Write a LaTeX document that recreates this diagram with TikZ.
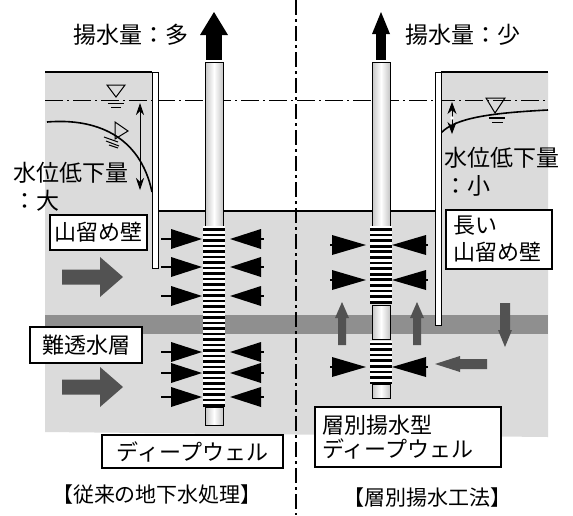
\documentclass[tikz,border=0pt]{standalone}
\usepackage{fontspec}
\setmainfont{Noto Sans CJK JP}
\usetikzlibrary{arrows.meta}

\definecolor{soil}{gray}{0.86}
\definecolor{clay}{gray}{0.56}
\definecolor{flow}{gray}{0.32}

\tikzset{
  label/.style={draw=black, line width=1.1pt, fill=white, inner sep=0pt,
    font=\fontsize{22}{27}\selectfont},
  head/.style={font=\fontsize{23}{27}\selectfont, inner sep=0pt},
  title/.style={font=\fontsize{21}{25}\selectfont, inner sep=0pt},
  pipe/.style={draw=black, line width=0.8pt, left color=gray!45,
    right color=gray!45, middle color=white},
  wallbox/.style={draw=black, line width=0.9pt, fill=white},
  surface/.style={line width=1.4pt},
  wlevel/.style={line width=0.8pt, dash pattern=on 18pt off 4pt on 2pt off 4pt},
  divider/.style={line width=1.8pt, dash pattern=on 15pt off 4pt on 3pt off 4pt},
  watercurve/.style={line width=1.6pt},
  pics/inR/.style n args={2}{code={
    \fill (-#1,-10) -- (0,0) -- (-#1,10) -- cycle;
    \draw[line width=1.2pt] (-#1-#2,0) -- (-#1+2,0);}},
  pics/inL/.style n args={2}{code={
    \fill (#1,-10) -- (0,0) -- (#1,10) -- cycle;
    \draw[line width=1.2pt] (#1-2,0) -- (#1+#2,0);}},
}

\begin{document}
\begin{tikzpicture}[x=1pt,y=-1pt]
\useasboundingbox (0,0) rectangle (573,515);

% retained soil and excavated ground
\fill[soil] (45,72) -- (152,72) -- (152,211) -- (441,211) -- (441,72)
  -- (548,72) -- (548,437) -- (45,432) -- cycle;
% aquitard layer
\fill[clay] (45,315) rectangle (548,334);

% initial water level
\draw[wlevel] (45,100) -- (548,100);

% lowered water tables
\draw[watercurve] (47,122) .. controls (95,118) and (140,135) .. (152,192);
\draw[watercurve] (441,133) .. controls (455,118) and (490,113) .. (548,110);

% water level marks
\draw[line width=1pt] (107,85) -- (125,85) -- (116,97) -- cycle;
\draw[line width=1pt] (108,103) -- (124,103) (111,107) -- (121,107);
\draw[line width=1pt] (115,122) -- (115,139) -- (128,131) -- cycle;
\draw[line width=1pt] (104,137) -- (118,142) (106,141) -- (119,146) (109,145) -- (118,148);
\draw[line width=1pt] (486,98) -- (505,98) -- (495,113) -- cycle;
\draw[line width=1.6pt] (489,118) -- (505,118);
\draw[line width=1pt] (492,122) -- (503,122);

% drawdown arrows
\coordinate (dl1) at (140,103);
\coordinate (dl2) at (140,190);
\draw[line width=0.8pt, {Stealth[length=12pt,width=8pt]}-{Stealth[length=12pt,width=8pt]}] (dl1) -- (dl2);
\coordinate (dr1) at (452,102);
\coordinate (dr2) at (452,134);
\draw[line width=0.8pt, {Stealth[length=12pt,width=9pt]}-{Stealth[length=12pt,width=9pt]}] (dr1) -- (dr2);
\fill[white] (452,118) circle (1.8);

% ground surface and excavation bottom
\draw[surface] (45,72) -- (152,72);
\draw[surface] (441,72) -- (548,72);
\draw[surface] (158,211) -- (435,211);

% retaining walls
\draw[wallbox] (152,72) rectangle (158,268);
\draw[wallbox] (435,72) rectangle (441,325);

% ---- conventional deep well ----
\fill (206,60) rectangle (222,34);
\fill (200,35) -- (228,35) -- (214,12) -- cycle;
\draw[pipe] (205,62) rectangle (223,226);
\fill[white] (203,226) rectangle (225,404);
\foreach \i in {0,...,32} \fill (203,228+5.5*\i) rectangle (225,230.7+5.5*\i);
\draw[pipe] (205,407) rectangle (223,425);
\foreach \y in {239,267,296,352,373,397} {
  \pic at (202,\y) {inR={31}{10}};
  \pic at (230,\y) {inL={31}{3}};
}
% groundwater inflow
\foreach \y in {277,387}
  \fill[flow] (62,\y-7.5) -- (100,\y-7.5) -- (100,\y-20) -- (123,\y)
    -- (100,\y+20) -- (100,\y+7.5) -- (62,\y+7.5) -- cycle;

% ---- layered pumping deep well ----
\fill (376,60) rectangle (386,32);
\fill (372,34) -- (390,34) -- (381,12) -- cycle;
\draw[pipe] (372,62) rectangle (390,226);
\fill[white] (370,226) rectangle (392,303);
\foreach \i in {0,...,13} \fill (370,228+5.6*\i) rectangle (392,230.7+5.6*\i);
\draw[pipe] (372,305) rectangle (390,339);
\fill[white] (370,341) rectangle (392,383);
\foreach \i in {0,...,7} \fill (370,342.5+5.6*\i) rectangle (392,345.2+5.6*\i);
\draw[pipe] (372,384) rectangle (390,398);
\foreach \y in {245,280,367} {
  \pic at (366,\y) {inR={34}{2}};
  \pic at (392,\y) {inL={34}{2}};
}
% vertical seepage through the aquitard
\foreach \x in {342,417}
  \fill[flow] (\x-4,345) -- (\x-4,318) -- (\x-7,318) -- (\x,302)
    -- (\x+7,318) -- (\x+4,318) -- (\x+4,345) -- cycle;
\fill[flow] (500,303) -- (510,303) -- (510,330) -- (512,330) -- (505,347)
  -- (498,330) -- (500,330) -- cycle;
\fill[flow] (487,359) -- (460,359) -- (460,356) -- (435,364) -- (460,372)
  -- (460,369) -- (487,369) -- cycle;

% centre divider
\draw[divider] (296,0) -- (296,515);

% labels
\node[head] (q1) at (131,35) {揚水量：多};
\node[head] (q2) at (463,35) {揚水量：少};
\node[head, anchor=base west] (dd1) at (13,181) {水位低下量};
\node[head, anchor=base west] (dd1b) at (13,209) {：大};
\node[head, anchor=base west] (dd2) at (444,166) {水位低下量};
\node[head, anchor=base west] (dd2b) at (444,194) {：小};

\node[label, minimum width=97, minimum height=35] (b1) at (98.5,232.5) {山留め壁};
\node[label, minimum width=112, minimum height=36] (b2) at (86,345) {難透水層};
\node[label, minimum width=181, minimum height=33] (b3) at (192.5,451.5) {ディープウェル};
\node[label, minimum height=59, text width=92, inner xsep=7pt, align=left,
  font=\fontsize{22}{27}\selectfont] (b4) at (499,239.5) {長い\\山留め壁};
\node[label, minimum height=60, text width=172, inner xsep=7pt, align=left,
  font=\fontsize{22}{24}\selectfont] (b5) at (408,437) {層別揚水型\\ディープウェル};

\node[title] (t1) at (157,495) {【従来の地下水処理】};
\node[title] (t2) at (427,498) {【層別揚水工法】};
\end{tikzpicture}
\end{document}
